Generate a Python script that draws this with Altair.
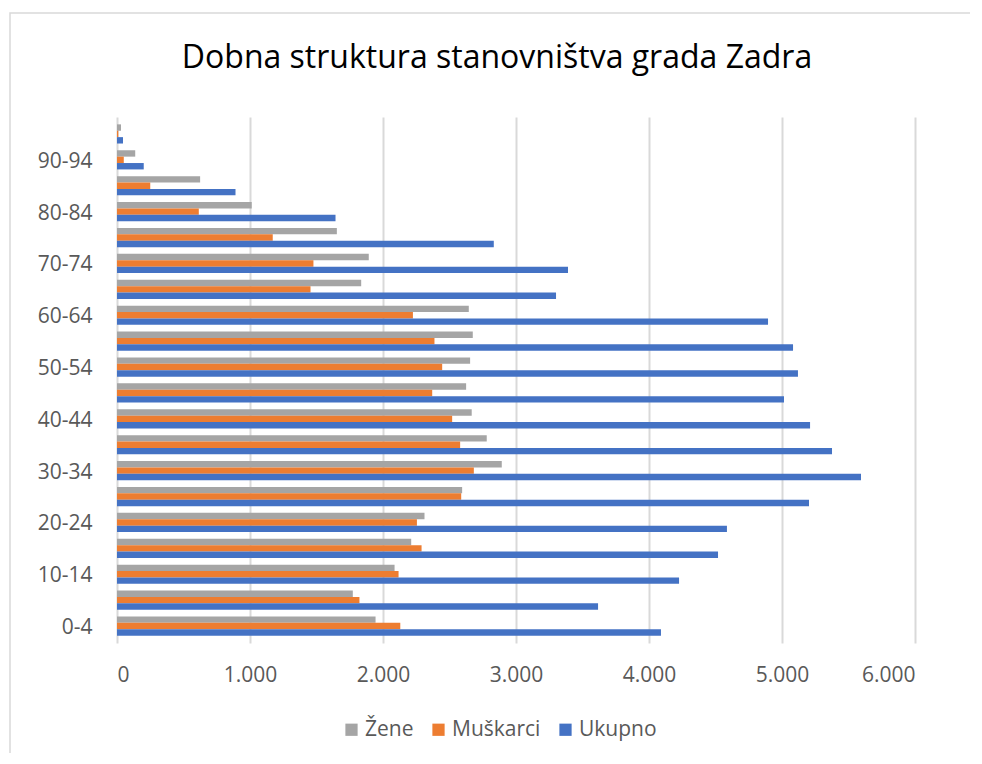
import json
import altair as alt
import pandas as pd

categories = ["0-4", "5-9", "10-14", "15-19", "20-24", "25-29", "30-34", "35-39",
              "40-44", "45-49", "50-54", "55-59", "60-64", "65-69", "70-74",
              "75-79", "80-84", "85-89", "90-94", "95+"]
zene = [1944, 1773, 2087, 2212, 2312, 2595, 2893, 2780, 2667, 2625, 2655, 2675,
        2645, 1836, 1893, 1653, 1013, 625, 137, 30]
muskarci = [2130, 1823, 2117, 2290, 2255, 2588, 2683, 2580, 2520, 2370, 2445, 2387,
            2225, 1455, 1477, 1171, 615, 250, 51, 10]
ukupno = [4090, 3617, 4226, 4519, 4586, 5203, 5594, 5376, 5211, 5015, 5120, 5083,
          4895, 3301, 3391, 2833, 1643, 891, 201, 45]
series = ["Žene", "Muškarci", "Ukupno"]
colors = ["#A5A5A5", "#ED7D31", "#4472C4"]
shown_labels = ["0-4", "10-14", "20-24", "30-34", "40-44", "50-54", "60-64",
                "70-74", "80-84", "90-94"]
x_ticks = [0, 1000, 2000, 3000, 4000, 5000, 6000]
title_text = "Dobna struktura stanovništva grada Zadra"

rows = []
for i, c in enumerate(categories):
    for s, vals in zip(series, [zene, muskarci, ukupno]):
        rows.append({"dob": c, "spol": s, "broj": vals[i]})
df = pd.DataFrame(rows)

FONT = "Open Sans"
label_expr = "indexof(" + json.dumps(shown_labels) + ", datum.value) >= 0 ? datum.value : ''"

bars = alt.Chart(df).mark_bar().encode(
    x=alt.X("broj:Q", scale=alt.Scale(domain=[0, 6000], nice=False),
            axis=alt.Axis(values=x_ticks, title=None, grid=True, gridColor="#d9d9d9",
                          gridWidth=2, domain=False, ticks=False, labelFontSize=21,
                          labelColor="#595959", labelFont=FONT, labelPadding=21,
                          labelExpr="replace(format(datum.value, ','), ',', '.')")),
    y=alt.Y("dob:N", sort=list(reversed(categories)),
            scale=alt.Scale(paddingInner=0.26, paddingOuter=0.284),
            axis=alt.Axis(title=None, grid=False, domain=False, ticks=False,
                          labelFontSize=21, labelColor="#595959", labelFont=FONT,
                          labelPadding=25, labelOffset=2, labelExpr=label_expr)),
    yOffset=alt.YOffset("spol:N", sort=series),
    color=alt.Color("spol:N", scale=alt.Scale(domain=series, range=colors),
                    legend=alt.Legend(title=None, orient="none", direction="horizontal",
                                      legendX=224, legendY=602, symbolType="square",
                                      symbolSize=150, symbolStrokeWidth=0,
                                      labelFontSize=21, labelColor="#595959",
                                      labelFont=FONT, columnPadding=14,
                                      symbolOffset=0, labelOffset=3)),
)

border = alt.Chart(pd.DataFrame({"a": [0]})).mark_rect(
    fill=None, stroke="#d9d9d9", strokeWidth=1.5
).encode(x=alt.value(-107), y=alt.value(-104), x2=alt.value(880), y2=alt.value(680))

title = alt.Chart(pd.DataFrame({"t": [title_text]})).mark_text(
    font=FONT, fontSize=32, color="#000000", align="center", baseline="alphabetic"
).encode(text="t:N", x=alt.value(380), y=alt.value(-49))

chart = alt.layer(border, bars, title).properties(
    width=798, height=526,
    autosize=alt.AutoSizeParams(type="none"),
    padding={"left": 109, "top": 109, "right": 55, "bottom": 110},
).configure_view(stroke=None)

chart.save("out.html", embed_options={"renderer": "svg", "actions": False})
